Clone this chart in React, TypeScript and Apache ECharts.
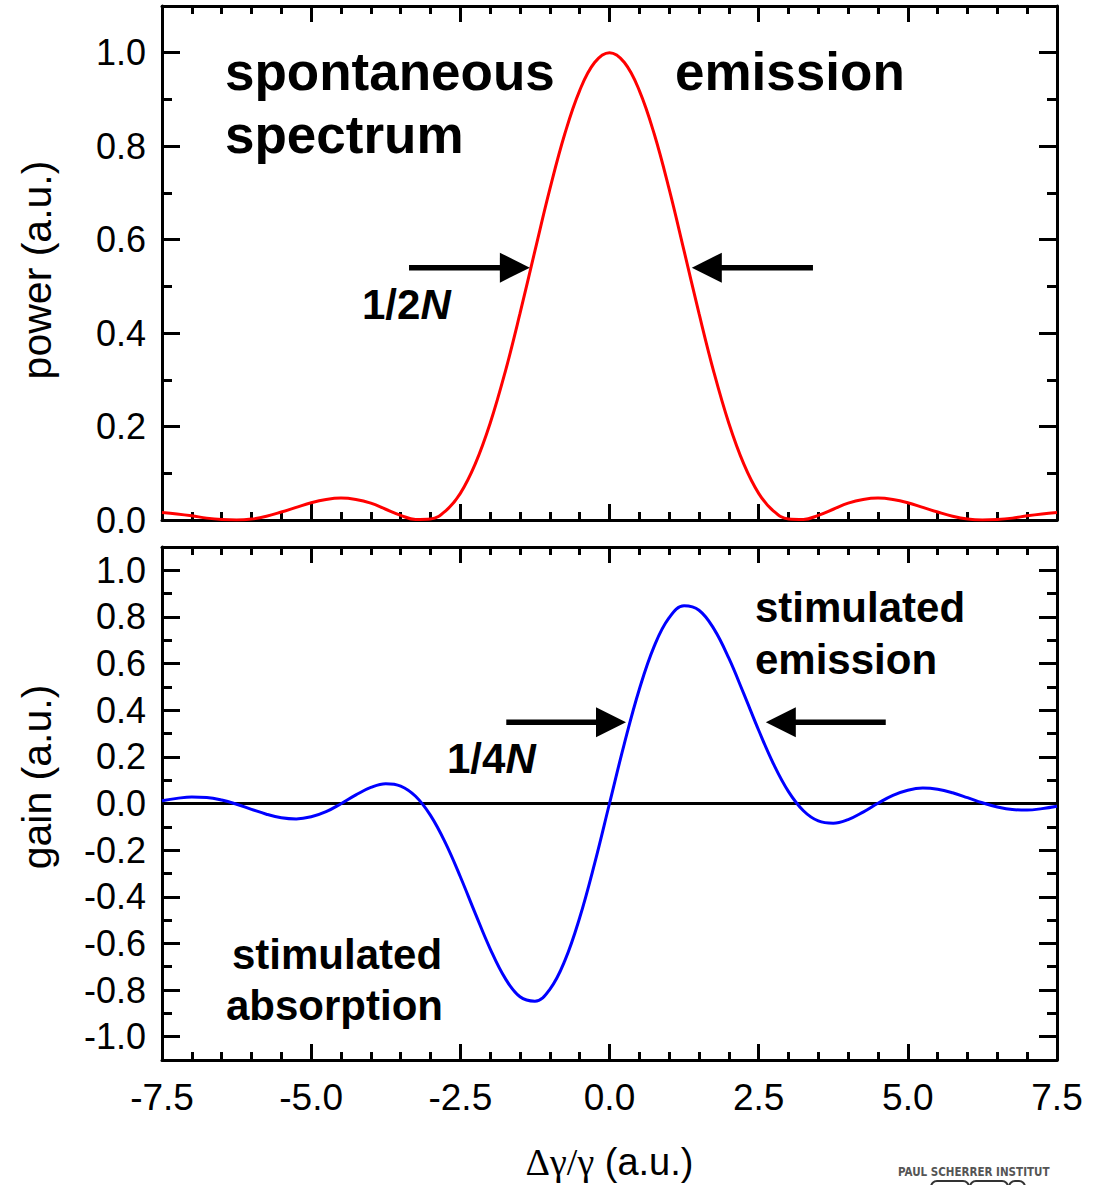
import React, { useEffect, useRef } from 'react';
import * as echarts from 'echarts';

// ---- data ----
const xValues = [
  -7.5, -7.25, -7, -6.75, -6.5, -6.25, -6, -5.75, -5.5, -5.25, -5, -4.75, -4.5, -4.25, -4, -3.75,
  -3.5, -3.25, -3, -2.75, -2.5, -2.25, -2, -1.75, -1.5, -1.25, -1, -0.75, -0.5, -0.25, 0, 0.25,
  0.5, 0.75, 1, 1.25, 1.5, 1.75, 2, 2.25, 2.5, 2.75, 3, 3.25, 3.5, 3.75, 4, 4.25, 4.5, 4.75, 5,
  5.25, 5.5, 5.75, 6, 6.25, 6.5, 6.75, 7, 7.25, 7.5,
];

const powerValues = [
  0.016, 0.013, 0.009, 0.004, 0.001, 0.0, 0.002, 0.008, 0.017, 0.027, 0.037, 0.044, 0.047, 0.044,
  0.036, 0.023, 0.01, 0.001, 0.002, 0.019, 0.057, 0.12, 0.207, 0.316, 0.442, 0.576, 0.708, 0.826,
  0.919, 0.979, 1.0, 0.979, 0.919, 0.826, 0.708, 0.576, 0.442, 0.316, 0.207, 0.12, 0.057, 0.019,
  0.002, 0.001, 0.01, 0.023, 0.036, 0.044, 0.047, 0.044, 0.037, 0.027, 0.017, 0.008, 0.002, 0.0,
  0.001, 0.004, 0.009, 0.013, 0.016,
];

const gainValues = [
  0.012, 0.022, 0.028, 0.026, 0.015, -0.003, -0.025, -0.046, -0.061, -0.066, -0.057, -0.035,
  -0.001, 0.037, 0.069, 0.085, 0.075, 0.031, -0.051, -0.169, -0.314, -0.471, -0.623, -0.749,
  -0.829, -0.848, -0.797, -0.675, -0.49, -0.258, 0, 0.258, 0.49, 0.675, 0.797, 0.848, 0.829,
  0.749, 0.623, 0.471, 0.314, 0.169, 0.051, -0.031, -0.075, -0.085, -0.069, -0.037, 0.001, 0.035,
  0.057, 0.066, 0.061, 0.046, 0.025, 0.003, -0.015, -0.026, -0.028, -0.022, -0.012,
];

const xMajorTicks = [-7.5, -5, -2.5, 0, 2.5, 5, 7.5];
const xMinorTicks = [
  -7, -6.5, -6, -5.5, -4.5, -4, -3.5, -3, -2, -1.5, -1, -0.5, 0.5, 1, 1.5, 2, 3, 3.5, 4, 4.5, 5.5,
  6, 6.5, 7,
];
const powerMajorTicks = [0, 0.2, 0.4, 0.6, 0.8, 1.0];
const powerMinorTicks = [0.1, 0.3, 0.5, 0.7, 0.9];
const gainMajorTicks = [-1, -0.8, -0.6, -0.4, -0.2, 0, 0.2, 0.4, 0.6, 0.8, 1];
const gainMinorTicks = [-0.9, -0.7, -0.5, -0.3, -0.1, 0.1, 0.3, 0.5, 0.7, 0.9];

const zeroLine = [
  [-7.5, 0],
  [7.5, 0],
];

// ---- annotation layout ----
const FONT = '"Liberation Sans", Arial, Helvetica, sans-serif';

const arrows = [
  { xAxisIndex: 0, yAxisIndex: 0, from: [-3.36, 0.54], to: [-1.335, 0.54] },
  { xAxisIndex: 0, yAxisIndex: 0, from: [3.41, 0.54], to: [1.38, 0.54] },
  { xAxisIndex: 4, yAxisIndex: 4, from: [-1.73, 0.348], to: [0.277, 0.348] },
  { xAxisIndex: 4, yAxisIndex: 4, from: [4.63, 0.348], to: [2.62, 0.348] },
];

const labels = [
  { text: 'spontaneous', x: 225, y: 71, size: 53 },
  { text: 'emission', x: 675, y: 71, size: 53 },
  { text: 'spectrum', x: 225, y: 134, size: 53 },
  { text: '1/2{i|N}', x: 362, y: 304, size: 42 },
  { text: 'stimulated', x: 755, y: 607, size: 42 },
  { text: 'emission', x: 755, y: 659, size: 42 },
  { text: '1/4{i|N}', x: 447, y: 758, size: 42 },
  { text: 'stimulated', x: 232, y: 954, size: 42 },
  { text: 'absorption', x: 226, y: 1005, size: 42 },
];

function xAxisDef(gridIndex: number, position: string, ticks: number[], len: number, major: boolean, labelsOn: boolean) {
  return {
    type: 'value',
    gridIndex,
    position,
    min: -7.5,
    max: 7.5,
    axisLine: { show: major, onZero: false, lineStyle: { color: '#000', width: 3 } },
    axisTick: { show: true, inside: true, length: len, customValues: ticks, lineStyle: { color: '#000', width: 3 } },
    axisLabel: {
      show: labelsOn,
      customValues: ticks,
      formatter: (v: number) => Number(v).toFixed(1),
      fontFamily: FONT,
      fontSize: 37,
      color: '#000',
      margin: 19,
    },
    splitLine: { show: false },
  } as any;
}

function yAxisDef(gridIndex: number, position: string, min: number, max: number, ticks: number[], len: number, major: boolean, labelsOn: boolean) {
  return {
    type: 'value',
    gridIndex,
    position,
    min,
    max,
    axisLine: { show: major, onZero: false, lineStyle: { color: '#000', width: 3 } },
    axisTick: { show: true, inside: true, length: len, customValues: ticks, lineStyle: { color: '#000', width: 3 } },
    axisLabel: {
      show: labelsOn,
      customValues: ticks,
      formatter: (v: number) => Number(v).toFixed(1),
      fontFamily: FONT,
      fontSize: 36,
      color: '#000',
      margin: 16,
    },
    splitLine: { show: false },
  } as any;
}

export default function App() {
  const ref = useRef<HTMLDivElement>(null);

  useEffect(() => {
    document.body.style.margin = '0';
    if (!ref.current) return;
    const chart = echarts.init(ref.current, undefined, { renderer: 'svg' });

    const xAxes = [
      xAxisDef(0, 'bottom', xMajorTicks, 16, true, false),
      xAxisDef(0, 'bottom', xMinorTicks, 8, false, false),
      xAxisDef(0, 'top', xMajorTicks, 16, true, false),
      xAxisDef(0, 'top', xMinorTicks, 8, false, false),
      xAxisDef(1, 'bottom', xMajorTicks, 16, true, true),
      xAxisDef(1, 'bottom', xMinorTicks, 8, false, false),
      xAxisDef(1, 'top', xMajorTicks, 16, true, false),
      xAxisDef(1, 'top', xMinorTicks, 8, false, false),
    ];
    xAxes[4].name = '{g|Δγ/γ} (a.u.)';
    xAxes[4].nameLocation = 'middle';
    xAxes[4].nameGap = 83;
    xAxes[4].nameTextStyle = {
      fontFamily: FONT,
      fontSize: 38,
      color: '#000',
      rich: { g: { fontFamily: '"Liberation Serif", "DejaVu Serif", serif', fontSize: 38, color: '#000' } },
    };

    const yAxes = [
      yAxisDef(0, 'left', 0, 1.1, powerMajorTicks, 18, true, true),
      yAxisDef(0, 'left', 0, 1.1, powerMinorTicks, 10, false, false),
      yAxisDef(0, 'right', 0, 1.1, powerMajorTicks, 18, true, false),
      yAxisDef(0, 'right', 0, 1.1, powerMinorTicks, 10, false, false),
      yAxisDef(1, 'left', -1.1, 1.1, gainMajorTicks, 18, true, true),
      yAxisDef(1, 'left', -1.1, 1.1, gainMinorTicks, 10, false, false),
      yAxisDef(1, 'right', -1.1, 1.1, gainMajorTicks, 18, true, false),
      yAxisDef(1, 'right', -1.1, 1.1, gainMinorTicks, 10, false, false),
    ];

    chart.setOption({
      animation: false,
      backgroundColor: '#fff',
      grid: [
        { left: 162, top: 6, width: 895, height: 514, containLabel: false },
        { left: 162, top: 547, width: 895, height: 513, containLabel: false },
      ],
      xAxis: xAxes,
      yAxis: yAxes,
      series: [
        {
          name: 'power',
          type: 'line',
          xAxisIndex: 0,
          yAxisIndex: 0,
          data: xValues.map((x, i) => [x, powerValues[i]]),
          showSymbol: false,
          smooth: 0.4,
          lineStyle: { color: '#ff0000', width: 3 },
          itemStyle: { color: '#ff0000' },
          z: 3,
        },
        {
          name: 'zero',
          type: 'line',
          xAxisIndex: 4,
          yAxisIndex: 4,
          data: zeroLine,
          showSymbol: false,
          lineStyle: { color: '#000', width: 3 },
          itemStyle: { color: '#000' },
          z: 2,
        },
        {
          name: 'gain',
          type: 'line',
          xAxisIndex: 4,
          yAxisIndex: 4,
          data: xValues.map((x, i) => [x, gainValues[i]]),
          showSymbol: false,
          smooth: 0.4,
          lineStyle: { color: '#0000ff', width: 3 },
          itemStyle: { color: '#0000ff' },
          z: 3,
        },
      ],
    });

    const graphics: any[] = [];
    arrows.forEach((a) => {
      const finder = { xAxisIndex: a.xAxisIndex, yAxisIndex: a.yAxisIndex };
      const p1 = chart.convertToPixel(finder, a.from) as number[];
      const p2 = chart.convertToPixel(finder, a.to) as number[];
      const dir = p2[0] > p1[0] ? 1 : -1;
      const head = 30;
      const half = 15;
      const base = p2[0] - dir * head;
      graphics.push({
        type: 'line',
        shape: { x1: p1[0], y1: p1[1], x2: base + dir * 2, y2: p2[1] },
        style: { stroke: '#000', lineWidth: 5.5 },
        z: 10,
      });
      graphics.push({
        type: 'polygon',
        shape: { points: [[p2[0], p2[1]], [base, p2[1] - half], [base, p2[1] + half]] },
        style: { fill: '#000' },
        z: 10,
      });
    });

    labels.forEach((l) => {
      graphics.push({
        type: 'text',
        x: l.x,
        y: l.y,
        z: 10,
        style: {
          text: l.text,
          fontFamily: FONT,
          fontSize: l.size,
          fontWeight: 'bold',
          fill: '#000',
          verticalAlign: 'middle',
          align: 'left',
          rich: { i: { fontFamily: FONT, fontSize: l.size, fontWeight: 'bold', fontStyle: 'italic', fill: '#000' } },
        },
      });
    });

    graphics.push({
      type: 'text',
      x: 37,
      y: 270,
      rotation: Math.PI / 2,
      z: 10,
      style: { text: 'power (a.u.)', fontFamily: FONT, fontSize: 41, fill: '#000', align: 'center', verticalAlign: 'middle' },
    });
    graphics.push({
      type: 'text',
      x: 37,
      y: 777,
      rotation: Math.PI / 2,
      z: 10,
      style: { text: 'gain (a.u.)', fontFamily: FONT, fontSize: 41, fill: '#000', align: 'center', verticalAlign: 'middle' },
    });

    // PSI logo (bottom right, partly cut off)
    graphics.push({
      type: 'text',
      x: 898,
      y: 1172,
      z: 10,
      style: { text: 'PAUL SCHERRER INSTITUT', fontFamily: '"DejaVu Sans Condensed", "Liberation Sans Narrow", sans-serif', fontSize: 11.5, fontWeight: 'bold', fill: '#555', verticalAlign: 'middle', align: 'left' },
    });
    [[931, 38], [970, 38], [1009, 16]].forEach(([x, w]) => {
      graphics.push({
        type: 'rect',
        shape: { x, y: 1181, width: w, height: 14, r: 6 },
        style: { fill: 'none', stroke: '#333', lineWidth: 2 },
        z: 10,
      });
    });

    chart.setOption({ graphic: graphics });

    return () => chart.dispose();
  }, []);

  return <div ref={ref} style={{ width: 1100, height: 1185, overflow: 'hidden' }} />;
}
